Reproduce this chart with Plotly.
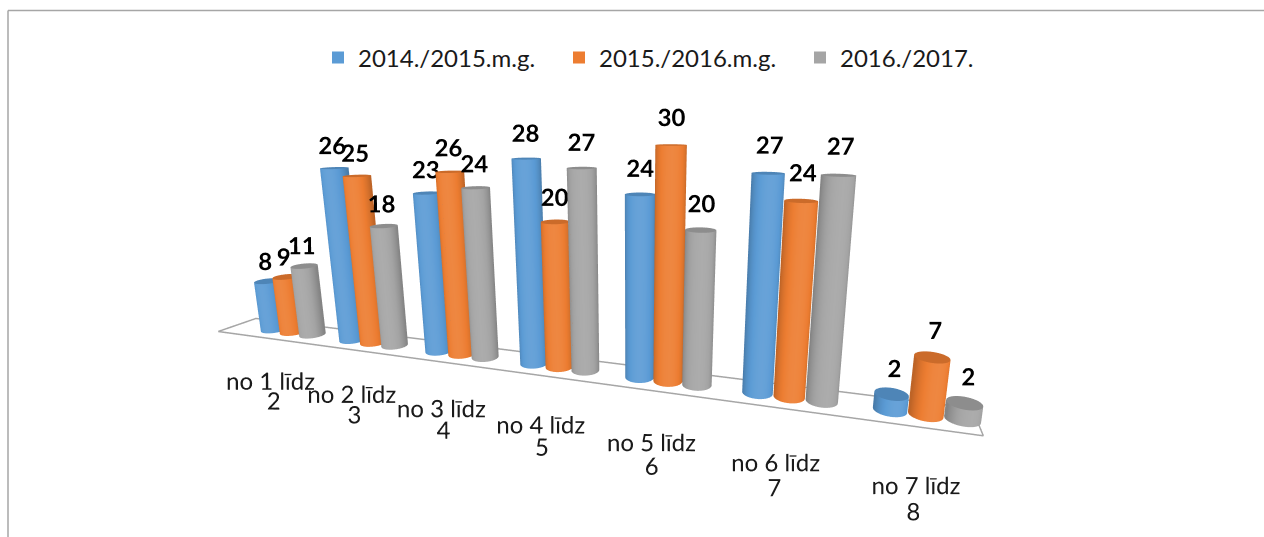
import numpy as np
import plotly.graph_objects as go

cat_line1 = ["no 1 līdz", "no 2 līdz", "no 3 līdz", "no 4 līdz", "no 5 līdz", "no 6 līdz", "no 7 līdz"]
cat_line2 = ["2", "3", "4", "5", "6", "7", "8"]
series_names = ["2014./2015.m.g.", "2015./2016.m.g.", "2016./2017."]
values_a = [8, 26, 23, 28, 24, 27, 2]
values_b = [9, 25, 26, 20, 30, 24, 7]
values_c = [11, 18, 24, 27, 20, 27, 2]
series_values = [values_a, values_b, values_c]
colors = ["#5B9BD5", "#ED7D31", "#A5A5A5"]

PITCH = 0.25
R = 0.122
FLOOR_Y = 0.23
Z_MIN, Z_MAX = -16, 36
VIEW_THETA = np.deg2rad(-72)
N = 36
FONT = "Lato"


def shade(hex_color, f):
    c = np.array([int(hex_color[i:i + 2], 16) for i in (1, 3, 5)], dtype=float)
    c = c * f if f <= 1 else c + (255 - c) * (f - 1)
    return "rgb(%d,%d,%d)" % tuple(np.clip(c, 0, 255))


def cylinder(cx, h, color):
    th = np.linspace(0, 2 * np.pi, N, endpoint=False)
    x0, y0 = cx + R * np.cos(th), R * np.sin(th)
    xs = list(x0) * 2 + list(x0) + [cx]
    ys = list(y0) * 2 + list(y0) + [0]
    zs = [0] * N + [h] * N + [h] * N + [h]
    side = [shade(color, 0.80 + 0.28 * max(0, np.cos(t - VIEW_THETA)) ** 1.2) for t in th]
    vc = side + side + [shade(color, 0.86)] * (N + 1)
    i, j, k = [], [], []
    for a in range(N):
        b = (a + 1) % N
        i += [a, b]
        j += [b, N + b]
        k += [N + a, N + a]
        i.append(2 * N + a)
        j.append(2 * N + b)
        k.append(3 * N)
    return go.Mesh3d(x=xs, y=ys, z=zs, i=i, j=j, k=k, vertexcolor=vc, flatshading=False,
                     lighting=dict(ambient=1, diffuse=0, specular=0, roughness=1, fresnel=0),
                     hoverinfo="skip", showlegend=False, showscale=False)


fig = go.Figure()
n_cat = len(cat_line1)

# floor outline
fx = [-0.75, n_cat - 0.65, n_cat - 0.65, -0.75]
fy = [-FLOOR_Y, -FLOOR_Y, FLOOR_Y, FLOOR_Y]
fig.add_trace(go.Scatter3d(x=fx + fx[:1], y=fy + fy[:1], z=[0] * 5, mode="lines",
                           line=dict(color="#A6A6A6", width=3), hoverinfo="skip", showlegend=False))

for s, vals in enumerate(series_values):
    offs = (s - 1) * PITCH
    for c, v in enumerate(vals):
        fig.add_trace(cylinder(c + offs, v, colors[s]))
    fig.add_trace(go.Scatter3d(
        x=[c + offs for c in range(n_cat)], y=[0] * n_cat, z=[v + 3.2 for v in vals],
        mode="text", text=[str(v) for v in vals], textposition="middle center",
        textfont=dict(family=FONT, size=24, color="black", weight="bold"),
        hoverinfo="skip", showlegend=False))

for lines, zpos in ((cat_line1, -6.5), (cat_line2, -9.8)):
    fig.add_trace(go.Scatter3d(
        x=[c - 0.05 for c in range(n_cat)], y=[-0.3] * n_cat, z=[zpos] * n_cat,
        mode="text", text=lines, textposition="middle center",
        textfont=dict(family=FONT, size=24, color="#1a1a1a"),
        hoverinfo="skip", showlegend=False))

for s, name in enumerate(series_names):
    fig.add_trace(go.Scatter(x=[None], y=[None], mode="markers", name=name,
                             marker=dict(symbol="square", size=13, color=colors[s]),
                             hoverinfo="skip"))

fig.update_layout(
    width=1264, height=537, margin=dict(l=0, r=0, t=0, b=0),
    paper_bgcolor="white", plot_bgcolor="white",
    font=dict(family=FONT, size=24, color="#1a1a1a"),
    xaxis=dict(visible=False), yaxis=dict(visible=False),
    legend=dict(orientation="h", x=318 / 1264, xanchor="left", y=0.892, yanchor="middle",
                font=dict(size=24), itemsizing="constant", entrywidth=196, entrywidthmode="pixels"),
    scene=dict(
        domain=dict(x=[0, 1], y=[0, 1]),
        bgcolor="rgba(0,0,0,0)",
        xaxis=dict(visible=False, range=[-1, n_cat]),
        yaxis=dict(visible=False, range=[-0.5, 0.5]),
        zaxis=dict(visible=False, range=[Z_MIN, Z_MAX]),
        aspectmode="manual",
        aspectratio=dict(x=2 * 8 / 7, y=2 / 7, z=0.97),
        camera=dict(eye=dict(x=0.66, y=-1.41, z=0.443), center=dict(x=0.172, y=0.069, z=0.068),
                    up=dict(x=0, y=0, z=1), projection=dict(type="perspective")),
    ),
    shapes=[
        dict(type="line", xref="paper", yref="paper", x0=8 / 1264, x1=1, y0=1 - 10.5 / 537, y1=1 - 10.5 / 537,
             line=dict(color="#A6A6A6", width=1.5)),
        dict(type="line", xref="paper", yref="paper", x0=8 / 1264, x1=8 / 1264, y0=0, y1=1 - 10.5 / 537,
             line=dict(color="#A6A6A6", width=1.5)),
    ],
)
fig.write_html("out.html", post_script="document.body.style.margin='0';", config=dict(displayModeBar=False))
